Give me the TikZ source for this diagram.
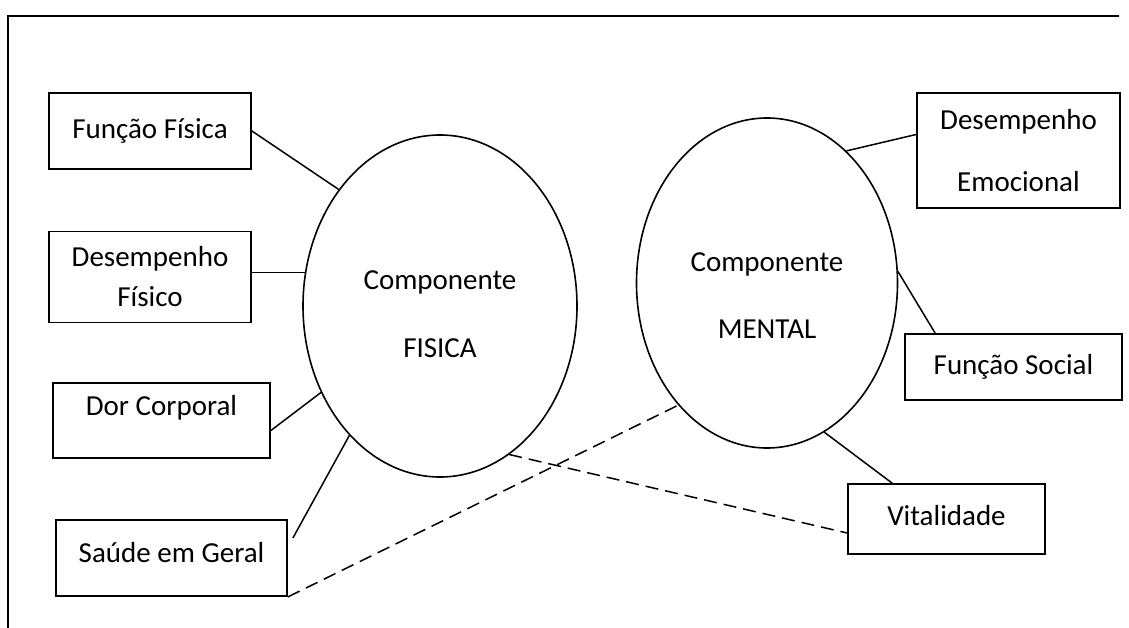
\documentclass[tikz,border=0pt]{standalone}
\usepackage{fontspec}
\setmainfont{Carlito}
\usetikzlibrary{shapes.geometric, positioning, calc}
\tikzset{
    box/.style={draw=black, line width=1.8pt, fill=white, align=center, inner sep=0pt, font=\fontsize{29}{40}\selectfont},
    comp/.style={ellipse, draw=black, line width=1.6pt, inner sep=0pt},
    txt/.style={align=center, inner sep=0pt, font=\fontsize{29}{68}\selectfont},
    link/.style={line width=1.5pt, black},
    dashlink/.style={line width=1.5pt, black, dash pattern=on 13pt off 7pt}
}

\begin{document}
\begin{tikzpicture}[x=1pt, y=-1pt]
        \useasboundingbox (0,0) rectangle (1129,628);
        % frame
        \draw [line width=2pt] (8,628) -- (8,16) -- (1119,16);
        % the two components
        \node [comp, minimum width=274pt, minimum height=342pt] (fis) at (440,306) {};
        \node [comp, minimum width=261pt, minimum height=330pt] (ment) at (767,283) {};
        \node [txt] (fistxt) at (440,314) {Componente\\FISICA};
        \node [txt, font=\fontsize{29}{67}\selectfont] (menttxt) at (767,296) {Componente\\MENTAL};
        % left boxes
        \node [box, minimum width=202pt, minimum height=76pt] (ff) at (150,131) {Função Física};
        \node [box, minimum width=202pt, minimum height=91pt] (df) at (150,277) {Desempenho\\Físico};
        \node [box, minimum width=217pt, minimum height=75pt, text depth=30pt] (dc) at (161.5,420.5) {Dor Corporal};
        \node [box, minimum width=231pt, minimum height=76pt, text depth=12pt] (sg) at (171.5,558) {Saúde em Geral};
        % right boxes
        \node [box, minimum width=203pt, minimum height=115pt, font=\fontsize{29}{62}\selectfont] (de) at (1018.5,150.5) {Desempenho\\Emocional};
        \node [box, minimum width=217pt, minimum height=66pt] (fs) at (1013.5,367) {Função Social};
        \node [box, minimum width=197pt, minimum height=70pt, text depth=8pt] (vit) at (946.5,519) {Vitalidade};
        % connectors
        \draw [link] (ff.east) -- (fis.131);
        \draw [link] (df.east |- fis.166) -- (fis.166);
        \draw [link] ([yshift=-10pt]dc.east) -- (fis.216);
        \draw [link] ([shift={(5pt,20pt)}]sg.east) -- (fis.235);
        \draw [link] ([yshift=16pt]de.west) -- (ment.59);
        \draw [link] ([xshift=31pt]fs.north west) -- (ment.5);
        \draw [link] ([xshift=45pt]vit.north west) -- (ment.291);
        \draw [dashlink] (sg.south east) -- (ment.234);
        \draw [dashlink] (fis.295) -- ([yshift=-14pt]vit.west);
    \end{tikzpicture}
\end{document}
